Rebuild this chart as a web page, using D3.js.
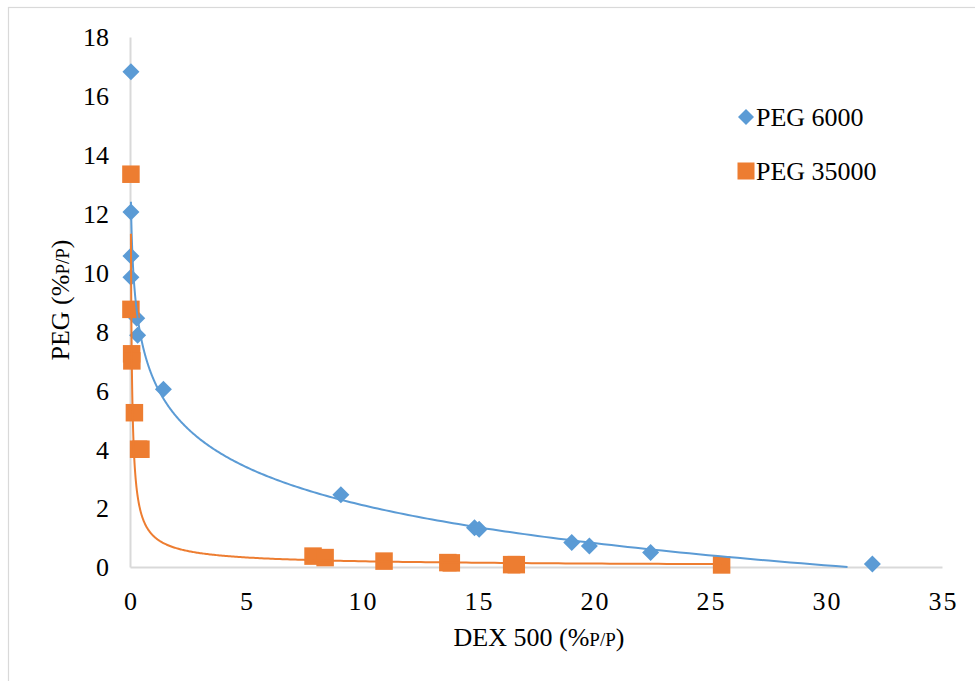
<!DOCTYPE html>
<html>
<head>
<meta charset="utf-8">
<script src="https://cdn.jsdelivr.net/npm/d3@7"></script>
<style>
  html, body { margin: 0; padding: 0; background: #fff; }
  svg { display: block; }
  text { font-family: "Liberation Serif", "Times New Roman", serif; fill: #000; }
</style>
</head>
<body>
<script>
// ---------- data ----------
const seriesNames = ["PEG 6000", "PEG 35000"];
const peg6000X = [0.04, 0.04, 0.04, 0.04, 0.29, 0.33, 1.44, 9.09, 14.85, 15.05, 19.04, 19.80, 22.44, 32.0];
const peg6000Y = [16.82, 12.06, 10.56, 9.84, 8.45, 7.87, 6.04, 2.45, 1.33, 1.28, 0.83, 0.71, 0.49, 0.10];
const peg35000X = [0.04, 0.04, 0.07, 0.08, 0.19, 0.37, 0.47, 7.89, 8.41, 10.95, 13.70, 13.85, 16.45, 16.65, 25.5];
const peg35000Y = [13.34, 8.75, 7.24, 7.00, 5.24, 4.00, 4.00, 0.37, 0.32, 0.20, 0.15, 0.14, 0.08, 0.08, 0.07];
// trendlines: logarithmic (PEG 6000) y = a - b ln x ; power (PEG 35000) y = a x^-b
const trend6000 = { a: 6.40, b: 1.865 };
const trend35000 = { a: 1.062, b: 0.735 };
const xTicks = [0, 5, 10, 15, 20, 25, 30, 35];
const yTicks = [0, 2, 4, 6, 8, 10, 12, 14, 16, 18];
const xTitle = "DEX 500 (%";
const yTitle = "PEG (%";
const unitSmall = "P/P";

// ---------- layout ----------
const W = 975, H = 681;
const colors = ["#5B9BD5", "#ED7D31"];
const FS = 26;
const svg = d3.select("body").append("svg").attr("width", W).attr("height", H);

// outer chart frame
svg.append("rect").attr("x", 8.5).attr("y", 7.5).attr("width", 1200).attr("height", 1200)
  .attr("fill", "#fff").attr("stroke", "#d9d9d9").attr("stroke-width", 1.2);

const x = d3.scaleLinear().domain([0, 35]).range([130, 942]);
const y = d3.scaleLinear().domain([0, 18]).range([567, 37]);

// axes
const xAxis = d3.axisBottom(x).tickValues(xTicks).tickSize(0).tickPadding(0);
const yAxis = d3.axisLeft(y).tickValues(yTicks).tickSize(0).tickPadding(0);

const gx = svg.append("g").attr("transform", `translate(0,${y(0)})`).call(xAxis);
gx.select(".domain").attr("stroke", "#d9d9d9").attr("stroke-width", 2);
gx.selectAll("text").attr("font-size", FS).attr("y", 43).attr("dy", 0)
  .attr("letter-spacing", "2px").attr("dx", "1px")
  .attr("font-family", "Liberation Serif");

const gy = svg.append("g").attr("transform", `translate(${x(0)},0)`).call(yAxis);
gy.select(".domain").attr("stroke", "#d9d9d9").attr("stroke-width", 2);
gy.selectAll("text").attr("font-size", FS).attr("x", -21).attr("dy", "0.34em")
  .attr("font-family", "Liberation Serif");

// axis titles
const xt = svg.append("text").attr("x", 539).attr("y", 646).attr("text-anchor", "middle")
  .attr("font-size", FS);
xt.append("tspan").text(xTitle);
xt.append("tspan").attr("font-size", 19).text(unitSmall);
xt.append("tspan").text(")");

const yt = svg.append("text").attr("transform", "translate(69,300) rotate(-90)")
  .attr("text-anchor", "middle").attr("font-size", FS);
yt.append("tspan").text(yTitle);
yt.append("tspan").attr("font-size", 19).text(unitSmall);
yt.append("tspan").text(")");

// markers
const diamond = (cx, cy, r) => `M${cx},${cy - r}L${cx + r},${cy}L${cx},${cy + r}L${cx - r},${cy}Z`;
const data6000 = peg6000X.map((v, i) => ({ x: v, y: peg6000Y[i] }));
const data35000 = peg35000X.map((v, i) => ({ x: v, y: peg35000Y[i] }));

svg.append("g").selectAll("path").data(data6000).join("path")
  .attr("d", d => diamond(x(d.x), y(d.y), 8.5)).attr("fill", colors[0]);

const sq = 17.5;
svg.append("g").selectAll("rect").data(data35000).join("rect")
  .attr("x", d => x(d.x) - sq / 2).attr("y", d => y(d.y) - sq / 2)
  .attr("width", sq).attr("height", sq).attr("fill", colors[1]);

// trendlines (sampled along x between the series' min and max)
function sampleX(lo, hi, n) {
  const l0 = Math.log(lo), l1 = Math.log(hi);
  return d3.range(n + 1).map(i => Math.exp(l0 + (l1 - l0) * i / n));
}
const root6000 = Math.exp(trend6000.a / trend6000.b);
const t6000 = sampleX(d3.min(peg6000X), Math.min(root6000, d3.max(peg6000X)), 400)
  .map(v => ({ x: v, y: Math.max(0, trend6000.a - trend6000.b * Math.log(v)) }));
const t35000 = sampleX(d3.min(peg35000X), d3.max(peg35000X), 400)
  .map(v => ({ x: v, y: trend35000.a * Math.pow(v, -trend35000.b) }));

const line = d3.line().x(d => x(d.x)).y(d => y(d.y));
svg.append("path").datum(t6000).attr("d", line).attr("fill", "none")
  .attr("stroke", colors[0]).attr("stroke-width", 2);
svg.append("path").datum(t35000).attr("d", line).attr("fill", "none")
  .attr("stroke", colors[1]).attr("stroke-width", 2);

// legend
const lg = svg.append("g");
lg.append("path").attr("d", diamond(746, 117, 8)).attr("fill", colors[0]);
lg.append("text").attr("x", 756).attr("y", 126).attr("font-size", FS).text(seriesNames[0]);
lg.append("rect").attr("x", 746 - 8.5).attr("y", 171 - 8.5).attr("width", 17).attr("height", 17).attr("fill", colors[1]);
lg.append("text").attr("x", 756).attr("y", 180).attr("font-size", FS).text(seriesNames[1]);
</script>
</body>
</html>
